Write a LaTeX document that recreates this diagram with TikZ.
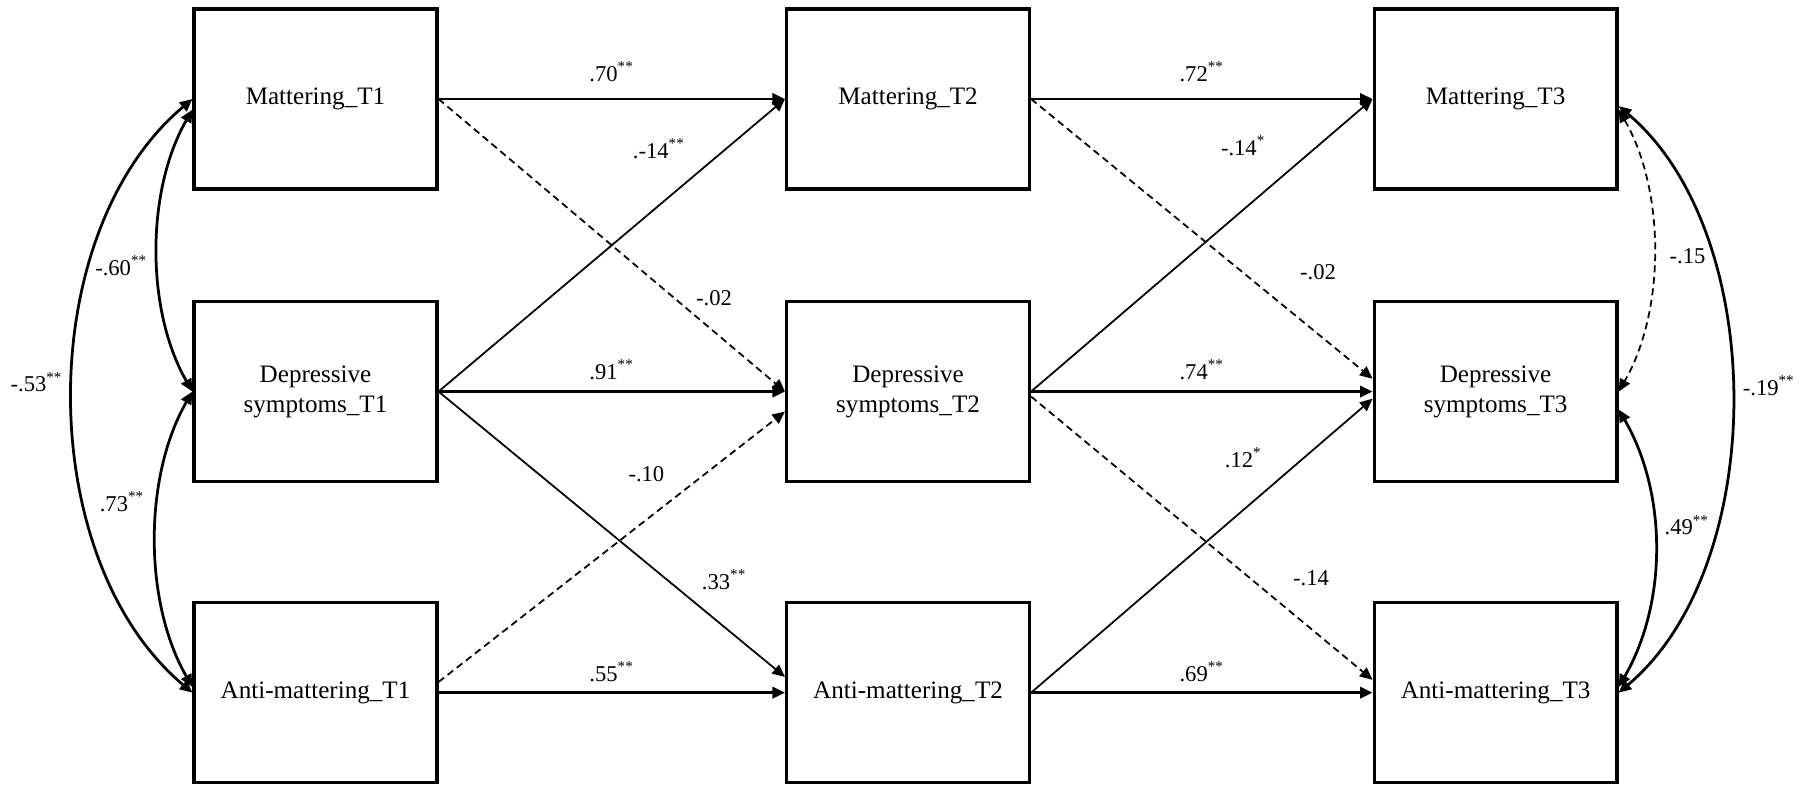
\documentclass[tikz,border=0pt]{standalone}
\usepackage{fontspec}
\setmainfont{Liberation Serif}
\usetikzlibrary{arrows.meta,positioning}

\begin{document}
\begin{tikzpicture}[
box/.style={draw, line width=1.3pt, minimum width=3.4cm, minimum height=2.52cm, align=center, font=\fontsize{10}{12}\selectfont},
arr/.style={-{Triangle[length=5pt,width=4.5pt]}, line width=1.1pt},
diag/.style={-{Triangle[length=5pt,width=4.5pt]}, line width=0.7pt},
nsdiag/.style={diag, dash pattern=on 2.8pt off 1.8pt},
cov/.style={{Triangle[length=5pt,width=4.5pt]}-{Triangle[length=5pt,width=4.5pt]}, line width=1.1pt},
nscov/.style={cov, line width=0.7pt, dash pattern=on 2.8pt off 1.8pt},
lbl/.style={font=\fontsize{9}{10}\selectfont, inner sep=1pt}
]
\useasboundingbox (-4.417,1.386) rectangle (20.909,-9.59);

\node[box] (m1) {Mattering\_T1};
\node[box, below=1.53cm of m1] (d1) {Depressive\\symptoms\_T1};
\node[box, below=1.65cm of d1] (a1) {Anti-mattering\_T1};
\node[box, right=4.85cm of m1] (m2) {Mattering\_T2};
\node[box, right=4.85cm of d1] (d2) {Depressive\\symptoms\_T2};
\node[box, right=4.85cm of a1] (a2) {Anti-mattering\_T2};
\node[box, right=4.78cm of m2] (m3) {Mattering\_T3};
\node[box, right=4.78cm of d2] (d3) {Depressive\\symptoms\_T3};
\node[box, right=4.78cm of a2] (a3) {Anti-mattering\_T3};

% T1 -> T2
\draw[arr] (m1) -- node[lbl, above=5.3pt]{.70\textsuperscript{**}} (m2);
\draw[arr] (d1) -- node[lbl, above=3.2pt]{.91\textsuperscript{**}} (d2);
\draw[arr] (a1) -- node[lbl, above=2.8pt]{.55\textsuperscript{**}} (a2);
\draw[nsdiag] (m1.east) -- node[lbl, pos=0.68, right=7.4pt]{-.02} (d2.west);
\draw[diag] (d1.east) -- node[lbl, pos=0.83, left=15pt]{.-14\textsuperscript{**}} (m2.west);
\draw[diag] (d1.east) -- node[lbl, pos=0.66, right=12.5pt]{.33\textsuperscript{**}} ([yshift=0.22cm]a2.west);
\draw[nsdiag] ([yshift=0.15cm]a1.east) -- node[lbl, pos=0.77, left=15pt]{-.10} ([yshift=-0.28cm]d2.west);

% T2 -> T3
\draw[arr] (m2) -- node[lbl, above=5.3pt]{.72\textsuperscript{**}} (m3);
\draw[arr] (d2) -- node[lbl, above=3.2pt]{.74\textsuperscript{**}} (d3);
\draw[arr] (a2) -- node[lbl, above=2.8pt]{.69\textsuperscript{**}} (a3);
\draw[nsdiag] (m2.east) -- node[lbl, pos=0.62, right=21.5pt]{-.02} ([yshift=0.18cm]d3.west);
\draw[diag] (d2.east) -- node[lbl, pos=0.84, left=19.5pt]{-.14\textsuperscript{*}} (m3.west);
\draw[nsdiag] ([yshift=-0.07cm]d2.east) -- node[lbl, pos=0.64, right=16pt]{-.14} ([yshift=0.18cm]a3.west);
\draw[diag] (a2.east) -- node[lbl, pos=0.8, left=15.5pt]{.12\textsuperscript{*}} ([yshift=-0.1cm]d3.west);

% covariances
\draw[cov] ([yshift=-0.15cm]m1.west) to[bend right=30, looseness=0.85] node[lbl, pos=0.55, left=2.6pt]{-.60\textsuperscript{**}} (d1.west);
\draw[cov] (d1.west) to[bend right=30, looseness=0.85] node[lbl, pos=0.38, left=3.8pt]{.73\textsuperscript{**}} ([yshift=0.08cm]a1.west);
\draw[cov] (m1.west) to[out=220, in=140, looseness=0.9] node[lbl, pos=0.48, left=2.5pt]{-.53\textsuperscript{**}} (a1.west);
\draw[nscov] ([yshift=-0.15cm]m3.east) to[bend left=30, looseness=0.85] node[lbl, pos=0.52, right=5pt]{-.15} (d3.east);
\draw[cov] ([yshift=-0.25cm]d3.east) to[bend left=30, looseness=0.9] node[lbl, pos=0.42, right=2.6pt]{.49\textsuperscript{**}} ([yshift=0.08cm]a3.east);
\draw[cov] ([yshift=-0.1cm]m3.east) to[out=-40, in=40, looseness=0.86] node[lbl, pos=0.48, right=3pt]{-.19\textsuperscript{**}} (a3.east);
\end{tikzpicture}
\end{document}
